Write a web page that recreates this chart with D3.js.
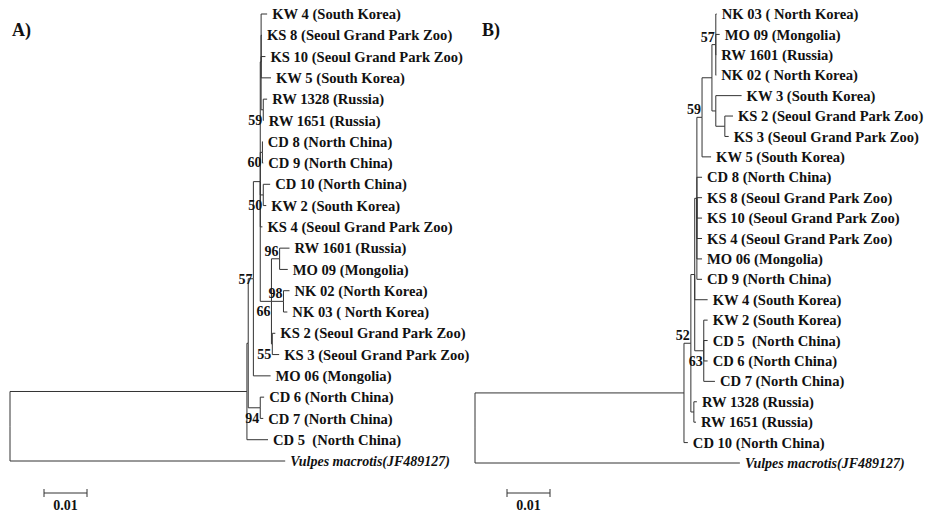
<!DOCTYPE html>
<html>
<head>
<meta charset="utf-8">
<script src="https://cdn.jsdelivr.net/npm/d3@7"></script>
<style>
  body { margin: 0; background: #fff; }
  text { font-family: "Liberation Serif", "Times New Roman", serif; font-weight: bold; fill: #111; }
</style>
</head>
<body>
<script>
const width = 929;
const height = 513;

// ---- panel A : node id, parent, branch length ----
const nodesA = ["root","In","InA","C57","P","G",
  "KW 4 (South Korea)","KS 8 (Seoul Grand Park Zoo)","KS 10 (Seoul Grand Park Zoo)","KW 5 (South Korea)",
  "C59","RW 1328 (Russia)","RW 1651 (Russia)",
  "C60","CD 8 (North China)","CD 9 (North China)",
  "C50","CD 10 (North China)","KW 2 (South Korea)",
  "KS 4 (Seoul Grand Park Zoo)",
  "Q","C96","RW 1601 (Russia)","MO 09 (Mongolia)",
  "C98","NK 02 (North Korea)","NK 03 ( North Korea)",
  "C55","KS 2 (Seoul Grand Park Zoo)","KS 3 (Seoul Grand Park Zoo)",
  "MO 06 (Mongolia)",
  "C94","CD 6 (North China)","CD 7 (North China)",
  "CD 5  (North China)",
  "Vulpes macrotis(JF489127)"];
const parentsA = ["","root","In","InA","C57","P",
  "G","G","G","G",
  "G","C59","C59",
  "P","C60","C60",
  "P","C50","C50",
  "P",
  "P","Q","C96","C96",
  "Q","C98","C98",
  "Q","C55","C55",
  "C57",
  "InA","C94","C94",
  "In",
  "root"];
const lengthsA = [0,0.0551,0.0003,0.0012,0.0016,0.0002,
  0.0014,0.0002,0.0010,0.0023,
  0.0005,0.0009,0.0001,
  0.0005,0.0001,0.0002,
  0.0007,0.0016,0.0007,
  0.0005,
  0.0026,0.0019,0.0023,0.0019,
  0.0028,0.0014,0.0009,
  0.0002,0.0007,0.0016,
  0.0040,
  0.0028,0.0009,0.0007,
  0.0049,
  0.0640];
const bootNodesA = ["C59","C60","C50","C57","C96","C98","Q","C55","C94"];
const bootValuesA = [59,60,50,57,96,98,66,55,94];
const bootPlaceA = ["below","below","below","mid","above","above","below","below","below"];

// ---- panel B ----
const nodesB = ["root","C52","W","U","T","C59","X","C57",
  "NK 03 ( North Korea)","MO 09 (Mongolia)","RW 1601 (Russia)","NK 02 ( North Korea)",
  "Y","KW 3 (South Korea)","CKS","KS 2 (Seoul Grand Park Zoo)","KS 3 (Seoul Grand Park Zoo)",
  "KW 5 (South Korea)",
  "CD 8 (North China)","KS 8 (Seoul Grand Park Zoo)","KS 10 (Seoul Grand Park Zoo)",
  "KS 4 (Seoul Grand Park Zoo)","MO 06 (Mongolia)","CD 9 (North China)",
  "KW 4 (South Korea)","C63","KW 2 (South Korea)","CD 5  (North China)","CD 6 (North China)","CD 7 (North China)",
  "CRW","RW 1328 (Russia)","RW 1651 (Russia)",
  "CD 10 (North China)",
  "Vulpes macrotis(JF489127)"];
const parentsB = ["","root","C52","W","U","T","C59","X",
  "C57","C57","C57","C57",
  "X","Y","Y","CKS","CKS",
  "C59",
  "T","T","T",
  "T","T","T",
  "U","U","C63","C63","C63","C63",
  "W","CRW","CRW",
  "C52",
  "root"];
const lengthsB = [0,0.0486,0.0016,0.0009,0.0005,0.0012,0.0023,0.0009,
  0.0002,0.0009,0.0001,0.0001,
  0.0009,0.0060,0.0021,0.0019,0.0009,
  0.0021,
  0.0012,0.0012,0.0012,
  0.0012,0.0012,0.0012,
  0.0030,0.0021,0.0009,0.0009,0.0009,0.0026,
  0.0007,0.0007,0.0005,
  0.0009,
  0.0616];
const bootNodesB = ["C57","C59","C63","W"];
const bootValuesB = [57,59,63,52];
const bootPlaceB = ["above","above","below","above"];

const scaleBarValue = 0.01;

const svg = d3.select("body").append("svg")
  .attr("width", width)
  .attr("height", height)
  .attr("viewBox", [0, 0, width, height]);

const bootDy = {above: -3, mid: 5, below: 15};

const drawTree = (opt) => {
  const rows = opt.nodes.map((id, i) => ({id: id, parent: opt.parents[i], length: opt.lengths[i]}));
  const root = d3.stratify().id(d => d.id).parentId(d => d.parent || null)(rows);

  const xScale = d3.scaleLinear().domain([0, 0.1]).range([opt.left, opt.left + 430]);
  const leaves = root.leaves();
  const yScale = d3.scalePoint()
    .domain(leaves.map(d => d.id))
    .range([14, opt.bottom]);

  root.eachBefore(d => {
    d.dist = (d.parent ? d.parent.dist : 0) + d.data.length;
    d.x = xScale(d.dist);
  });
  // internal node sits half way between its first and last child
  root.eachAfter(d => {
    if (d.children) {
      d.y = (d.children[0].y + d.children[d.children.length - 1].y) / 2;
    } else {
      d.y = yScale(d.id);
    }
  });

  const g = svg.append("g");

  g.selectAll("path.link")
    .data(root.descendants().filter(d => d.parent))
    .join("path")
      .attr("class", "link")
      .attr("fill", "none")
      .attr("stroke", "#333")
      .attr("stroke-width", 1)
      .attr("d", d => `M${d.parent.x},${d.parent.y}V${d.y}H${d.x}`);

  g.selectAll("text.tip")
    .data(leaves)
    .join("text")
      .attr("class", "tip")
      .attr("x", d => d.x + 5)
      .attr("y", d => d.y)
      .attr("dy", "0.35em")
      .style("font-size", d => d.id.startsWith("Vulpes") ? "14px" : "14.6px")
      .style("white-space", "pre")
      .style("font-style", d => d.id.startsWith("Vulpes") ? "italic" : "normal")
      .text(d => d.id);

  const byId = new Map(root.descendants().map(d => [d.id, d]));
  g.selectAll("text.boot")
    .data(opt.bootNodes.map((id, i) => ({node: byId.get(id), value: opt.bootValues[i], place: opt.bootPlace[i]})))
    .join("text")
      .attr("class", "boot")
      .attr("x", d => d.node.x - 1)
      .attr("y", d => d.node.y + bootDy[d.place])
      .attr("text-anchor", "end")
      .style("font-size", "14px")
      .text(d => d.value);

  // scale bar
  const barX = opt.barLeft;
  const barLen = xScale(scaleBarValue) - xScale(0);
  const bar = g.append("g").attr("stroke", "#333").attr("stroke-width", 1);
  bar.append("line").attr("x1", barX).attr("x2", barX + barLen).attr("y1", 493).attr("y2", 493);
  bar.append("line").attr("x1", barX).attr("x2", barX).attr("y1", 489).attr("y2", 497);
  bar.append("line").attr("x1", barX + barLen).attr("x2", barX + barLen).attr("y1", 489).attr("y2", 497);
  g.append("text")
    .attr("x", barX + barLen / 2)
    .attr("y", 510)
    .attr("text-anchor", "middle")
    .style("font-size", "14px")
    .text(scaleBarValue);

  g.append("text")
    .attr("x", opt.panelX)
    .attr("y", 36)
    .style("font-size", "18px")
    .text(opt.panel);
};

drawTree({nodes: nodesA, parents: parentsA, lengths: lengthsA,
  bootNodes: bootNodesA, bootValues: bootValuesA, bootPlace: bootPlaceA,
  left: 10, bottom: 461, barLeft: 44, panel: "A)", panelX: 12});

drawTree({nodes: nodesB, parents: parentsB, lengths: lengthsB,
  bootNodes: bootNodesB, bootValues: bootValuesB, bootPlace: bootPlaceB,
  left: 475, bottom: 463, barLeft: 507, panel: "B)", panelX: 482});
</script>
</body>
</html>
